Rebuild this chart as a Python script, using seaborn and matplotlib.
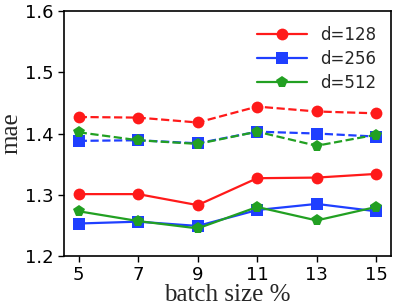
import matplotlib
matplotlib.use("Agg")
import matplotlib.pyplot as plt
import pandas as pd
import seaborn as sns

batch = [5, 7, 9, 11, 13, 15]
dims = ["d=128", "d=256", "d=512"]

# solid lines
mae_128 = [1.301, 1.301, 1.283, 1.327, 1.328, 1.334]
mae_256 = [1.253, 1.256, 1.249, 1.275, 1.285, 1.273]
mae_512 = [1.273, 1.257, 1.245, 1.280, 1.258, 1.280]

# dashed lines
mae_128_dash = [1.427, 1.426, 1.418, 1.444, 1.436, 1.433]
mae_256_dash = [1.388, 1.389, 1.384, 1.403, 1.400, 1.395]
mae_512_dash = [1.402, 1.389, 1.383, 1.403, 1.380, 1.398]

colors = ["#ff1a1a", "#1f3fff", "#22a022"]
markers = ["o", "s", "p"]

sns.set_style("ticks")
fig = plt.figure(figsize=(3.99, 3.08), dpi=100)
ax = fig.add_axes([0.16, 0.169, 0.82, 0.795])

solid = [mae_128, mae_256, mae_512]
dashed = [mae_128_dash, mae_256_dash, mae_512_dash]

for name, vals, c, m in zip(dims, solid, colors, markers):
    df = pd.DataFrame({"batch": batch, "mae": vals})
    sns.lineplot(data=df, x="batch", y="mae", ax=ax, color=c, marker=m,
                 markersize=8.5, markeredgewidth=0, linewidth=1.6, label=name)

for vals, c, m in zip(dashed, colors, markers):
    df = pd.DataFrame({"batch": batch, "mae": vals})
    sns.lineplot(data=df, x="batch", y="mae", ax=ax, color=c, marker=m,
                 markersize=8.5, markeredgewidth=0, linewidth=1.6,
                 linestyle="--")

ax.set_xlim(4.5, 15.5)
ax.set_ylim(1.2, 1.6)
ax.set_xticks(batch)
ax.set_yticks([1.2, 1.3, 1.4, 1.5, 1.6])
ax.tick_params(labelsize=13, direction="out", length=4, width=1, colors="black")
for s in ax.spines.values():
    s.set_color("black")
    s.set_linewidth(1.2)

ax.set_xlabel("batch size %", family="Liberation Serif", fontsize=18, labelpad=0)
ax.set_ylabel("mae", family="Liberation Serif", fontsize=18, labelpad=2)

ax.legend(loc="upper right", frameon=False, fontsize=12, handlelength=3,
          borderaxespad=0.5, labelspacing=0.35)

fig.savefig("out.png", dpi=100)
